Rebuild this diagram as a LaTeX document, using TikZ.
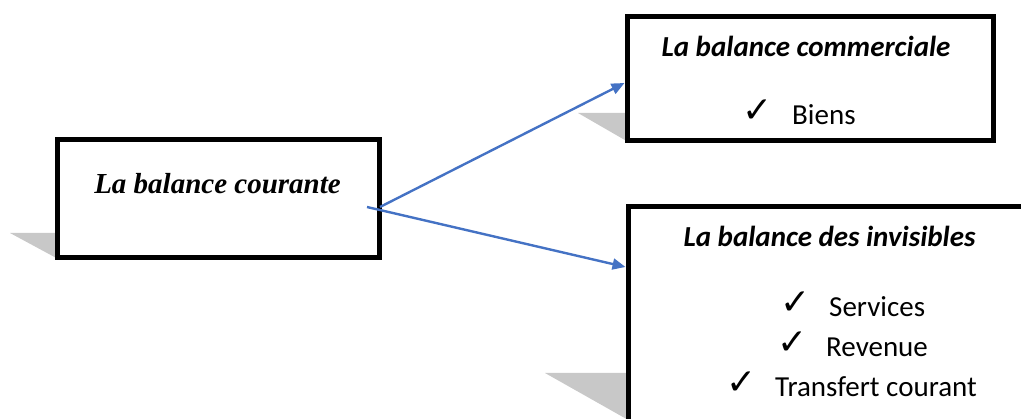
\documentclass[tikz,border=0pt]{standalone}
\usepackage{fontspec}
\setmainfont{Liberation Serif}
\newfontfamily\calibri{Carlito}
\newfontfamily\dejavu{DejaVu Sans}
\usetikzlibrary{arrows.meta}
\definecolor{arrowblue}{RGB}{68,114,196}
\definecolor{shadowgrey}{RGB}{200,200,200}
\tikzset{
  box/.style={draw=black,line width=5pt,fill=white,rectangle,inner sep=0pt},
  shadow/.style={fill=shadowgrey,draw=none},
  conn/.style={draw=arrowblue,line width=2.4pt,-{Triangle[length=13pt,width=11pt]}},
  serifti/.style={font=\fontsize{29}{34}\selectfont\bfseries\itshape,inner sep=0pt,anchor=base},
  calti/.style={font=\calibri\fontsize{29}{34}\selectfont\bfseries\itshape,inner sep=0pt,anchor=base},
  item/.style={font=\calibri\fontsize{29}{34}\selectfont,inner sep=0pt,anchor=base west},
  tick/.style={font=\dejavu\fontsize{36}{40}\selectfont,inner sep=0pt,anchor=base west}
}
\begin{document}
\begin{tikzpicture}[x=1pt,y=-1pt]
\useasboundingbox (0,0) rectangle (1021,419);
\clip (0,0) rectangle (1021,419);
% shadows
\fill[shadowgrey] (10,233) -- (60,233) -- (60,260) -- cycle;
\fill[shadowgrey] (578,113) -- (630,113) -- (630,143) -- cycle;
\fill[shadowgrey] (545,373) -- (630,373) -- (630,421) -- cycle;
% boxes
\node[box,minimum width=322pt,minimum height=118pt] (b1) at (218,199) {};
\node[box,minimum width=366pt,minimum height=124pt] (b2) at (810,79) {};
\node[box,minimum width=420pt,minimum height=230pt] (b3) at (838,322) {};
% texts
\node[serifti] (t1) at (217.5,194) {La balance courante};
\node[calti] (t2) at (806,57) {La balance commerciale};
\node[tick] (c21) at (742,123) {✓};
\node[item] (i21) at (792,125) {Biens};
\node[calti] (t3) at (829.5,247) {La balance des invisibles};
\node[tick] (c31) at (780,315) {✓};
\node[item] (i31) at (829,317) {Services};
\node[tick] (c32) at (777,355) {✓};
\node[item] (i32) at (826,357) {Revenue};
\node[tick] (c33) at (726,395) {✓};
\node[item] (i33) at (775,397) {Transfert courant};
% connectors
\coordinate (s1) at (380,207);
\coordinate (s2) at (367,207);
\coordinate (e2) at (b2.west |- 0,83);
\coordinate (e3) at (b3.west |- 0,267);
\draw[conn] (s1) -- (e2);
\draw[conn] (s2) -- (e3);
\end{tikzpicture}
\end{document}
